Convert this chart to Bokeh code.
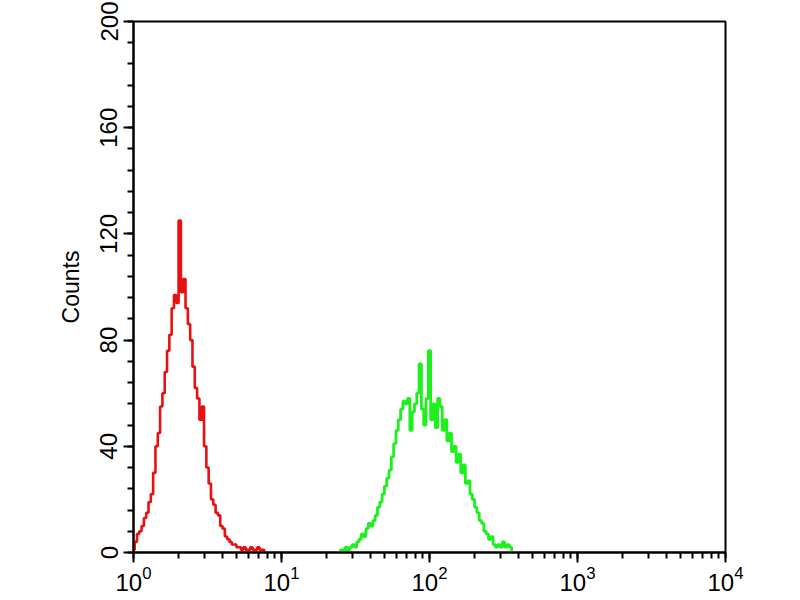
import numpy as np
from bokeh.plotting import figure
from bokeh.models import Range1d, SingleIntervalTicker, LogTicker
from bokeh.embed import file_html
from bokeh.resources import INLINE

# Histogram channels: 64 channels per decade on a 4-decade log amplifier
CHANNELS_PER_DECADE = 64

red_channels = list(range(0, 58))
red_counts = [1, 4, 7, 8, 10, 13, 15, 19, 22, 30,
              40, 45, 55, 60, 68, 76, 82, 92, 97, 94,
              125, 98, 103, 92, 86, 80, 70, 62, 58, 50,
              55, 40, 32, 26, 20, 18, 15, 14, 10, 9,
              6, 5, 4, 3, 3, 2, 2, 1, 2, 1,
              1, 2, 1, 1, 2, 1, 1, 0]

green_channels = list(range(89, 165))
green_counts = [0, 1, 1, 2, 1, 2, 3, 2, 4, 5,
                7, 6, 9, 11, 10, 12, 14, 17, 19, 22,
                25, 28, 31, 36, 41, 46, 50, 54, 57, 56,
                58, 46, 53, 56, 60, 71, 54, 48, 58, 76,
                50, 56, 47, 58, 55, 46, 50, 42, 45, 38,
                40, 34, 37, 30, 33, 26, 27, 22, 20, 17,
                15, 12, 11, 8, 7, 5, 6, 3, 2, 3,
                2, 4, 2, 3, 2, 0]

y_label = "Counts"
FONT = "Liberation Sans"

red_x = [10 ** (k / CHANNELS_PER_DECADE) for k in red_channels]
green_x = [10 ** (k / CHANNELS_PER_DECADE) for k in green_channels]

p = figure(width=792, height=600, x_axis_type="log",
           x_range=Range1d(1, 10000), y_range=Range1d(0, 200),
           output_backend="svg", toolbar_location=None,
           min_border_left=133, min_border_right=67,
           min_border_top=21, min_border_bottom=48)

p.xgrid.visible = False
p.ygrid.visible = False
p.outline_line_color = "black"
p.outline_line_width = 2
p.background_fill_color = "white"
p.border_fill_color = "white"

p.step(red_x, red_counts, mode="center", line_color="#e81010", line_width=2.6)
p.step(green_x, green_counts, mode="center", line_color="#1ef01e", line_width=2.8)

p.yaxis.ticker = SingleIntervalTicker(interval=40, num_minor_ticks=5)
p.xaxis.ticker = LogTicker(num_minor_ticks=10)

for ax in (p.xaxis[0], p.yaxis[0]):
    ax.axis_line_color = "black"
    ax.axis_line_width = 2
    ax.major_tick_line_color = "black"
    ax.major_tick_line_width = 2
    ax.minor_tick_line_color = "black"
    ax.minor_tick_line_width = 2
    ax.major_tick_in = 0
    ax.major_tick_out = 10
    ax.minor_tick_in = 0
    ax.minor_tick_out = 6
    ax.major_label_text_font = FONT
    ax.major_label_text_font_size = "24px"
    ax.major_label_text_color = "black"

p.yaxis.major_label_orientation = "vertical"
p.yaxis.major_label_standoff = 6
p.xaxis.major_label_standoff = 3
p.yaxis.axis_label = y_label
p.yaxis.axis_label_text_font = FONT
p.yaxis.axis_label_text_font_size = "23px"
p.yaxis.axis_label_text_font_style = "normal"
p.yaxis.axis_label_text_color = "black"
p.yaxis.axis_label_standoff = 14

open("out.html", "w").write(file_html(p, INLINE))
